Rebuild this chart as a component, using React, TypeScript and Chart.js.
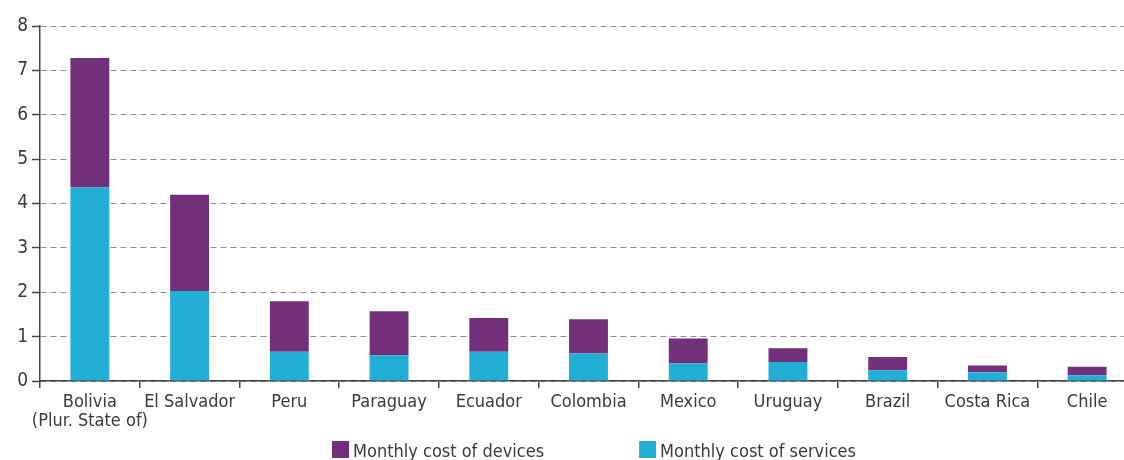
import React, { useEffect, useRef } from "react";
import { Chart, registerables } from "chart.js";

Chart.register(...registerables);

const categories: (string | string[])[] = [
  ["Bolivia", "(Plur. State of)"],
  "El Salvador",
  "Peru",
  "Paraguay",
  "Ecuador",
  "Colombia",
  "Mexico",
  "Uruguay",
  "Brazil",
  "Costa Rica",
  "Chile",
];
const servicesCost = [4.36, 2.03, 0.66, 0.58, 0.66, 0.62, 0.4, 0.43, 0.24, 0.2, 0.13];
const devicesCost = [2.92, 2.17, 1.14, 0.99, 0.76, 0.77, 0.56, 0.31, 0.3, 0.15, 0.19];
const yTicks = [0, 1, 2, 3, 4, 5, 6, 7, 8];

const PURPLE = "#72307b";
const CYAN = "#23aed5";
const TEXT = "#3a3a3a";
const FONT = '"Liberation Sans Narrow", "DejaVu Sans Condensed", "Roboto", sans-serif';

const legendPlugin = {
  id: "customLegend",
  afterDraw(chart: any) {
    const ctx = chart.ctx;
    const items = [...chart.data.datasets].reverse();
    ctx.save();
    ctx.font = `18px ${FONT}`;
    ctx.textBaseline = "alphabetic";
    let x = 332;
    for (const ds of items) {
      ctx.fillStyle = ds.backgroundColor;
      ctx.fillRect(x, 441, 17, 17);
      ctx.fillStyle = TEXT;
      ctx.fillText(ds.label, x + 21, 457);
      x += 21 + ctx.measureText(ds.label).width + 95;
    }
    ctx.restore();
  },
};

export default function App() {
  const ref = useRef<HTMLCanvasElement>(null);
  useEffect(() => {
    if (!ref.current) return;
    const chart = new Chart(ref.current, {
      type: "bar",
      data: {
        labels: categories,
        datasets: [
          {
            label: "Monthly cost of services",
            data: servicesCost,
            backgroundColor: CYAN,
            barPercentage: 0.39,
            categoryPercentage: 1,
          },
          {
            label: "Monthly cost of devices",
            data: devicesCost,
            backgroundColor: PURPLE,
            barPercentage: 0.39,
            categoryPercentage: 1,
          },
        ],
      },
      options: {
        responsive: false,
        animation: false,
        devicePixelRatio: 1,
        layout: { padding: { top: 26, left: 0, right: 0, bottom: 0 } },
        plugins: { legend: { display: false }, tooltip: { enabled: false } },
        scales: {
          x: {
            stacked: true,
            border: { display: true, color: "#444", width: 1.5 },
            grid: {
              offset: true,
              drawOnChartArea: false,
              drawTicks: true,
              tickLength: 7,
              color: "#444",
              tickColor: "#444",
              lineWidth: 1.5,
            },
            ticks: {
              autoSkip: false,
              maxRotation: 0,
              minRotation: 0,
              padding: 4,
              color: TEXT,
              font: { family: FONT, size: 18, lineHeight: 1.1 },
            },
            afterFit: (s: any) => {
              s.height = 79;
            },
          },
          y: {
            stacked: true,
            min: 0,
            max: 8,
            afterBuildTicks: (s: any) => {
              s.ticks = yTicks.map((v) => ({ value: v }));
            },
            border: { display: true, color: "#444", width: 1.5, dash: [6, 4] },
            grid: {
              drawOnChartArea: true,
              drawTicks: true,
              tickLength: 8,
              color: "#8f8f8f",
              tickColor: "#444",
              lineWidth: 1,
              tickWidth: 1.5,
              tickBorderDash: [],
            },
            ticks: {
              padding: 4,
              color: TEXT,
              font: { family: FONT, size: 19 },
            },
            afterFit: (s: any) => {
              s.width = 40;
            },
          } as any,
        },
      },
      plugins: [legendPlugin],
    });
    return () => chart.destroy();
  }, []);
  return (
    <div
      style={{
        position: "absolute",
        left: 0,
        top: 0,
        width: 1124,
        height: 460,
        overflow: "hidden",
        background: "#fff",
      }}
    >
      <canvas ref={ref} width={1137} height={460} style={{ display: "block" }} />
    </div>
  );
}
